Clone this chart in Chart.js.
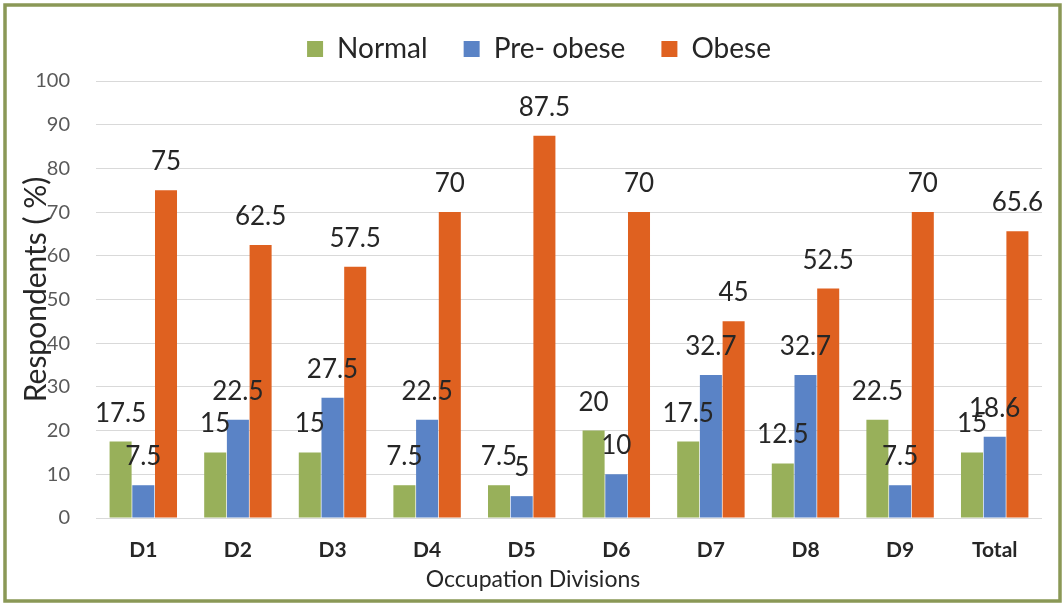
<!DOCTYPE html>
<html>
<head>
<meta charset="utf-8">
<script src="https://cdn.jsdelivr.net/npm/chart.js@4/dist/chart.umd.min.js"></script>
<style>
  html, body { margin: 0; padding: 0; background: #fff; }
  #wrap { width: 1064px; height: 606px; position: relative; }
</style>
</head>
<body>
<div id="wrap"><canvas id="bmiChart"></canvas></div>
<script>
const divisions = ["D1", "D2", "D3", "D4", "D5", "D6", "D7", "D8", "D9", "Total"];
const normal = [17.5, 15, 15, 7.5, 7.5, 20, 17.5, 12.5, 22.5, 15];
const preObese = [7.5, 22.5, 27.5, 22.5, 5, 10, 32.7, 32.7, 7.5, 18.6];
const obese = [75, 62.5, 57.5, 70, 87.5, 70, 45, 52.5, 70, 65.6];
const yTicks = [0, 10, 20, 30, 40, 50, 60, 70, 80, 90, 100];

const FONT = "Lato, 'Open Sans', sans-serif";

// white page + olive frame round the whole chart
const frame = {
  id: "frame",
  beforeInit(chart) {
    const legend = chart.legend;
    // a bit more room under the legend
    const fit = legend.fit;
    legend.fit = function () {
      fit.call(this);
      this.height += 6;
    };
    // legend sits centred over the whole frame, not the padded area
    const draw = legend.draw;
    legend.draw = function () {
      this.ctx.save();
      this.ctx.translate(18, -2);
      draw.call(this);
      this.ctx.restore();
    };
  },
  beforeDraw(chart) {
    const { ctx, width, height } = chart;
    ctx.save();
    ctx.fillStyle = "#fff";
    ctx.fillRect(0, 0, width, height);
    ctx.restore();
  },
  afterDraw(chart) {
    const ctx = chart.ctx;
    ctx.save();
    ctx.strokeStyle = "#8a9856";
    ctx.lineWidth = 3.5;
    ctx.strokeRect(5, 5, 1055, 596);
    ctx.restore();
  }
};

// numbers above each bar + both axis titles
const valueLabels = {
  id: "valueLabels",
  afterDatasetsDraw(chart) {
    const { ctx, chartArea } = chart;
    ctx.save();
    ctx.font = "26px " + FONT;
    ctx.fillStyle = "#262626";
    ctx.textAlign = "center";
    ctx.textBaseline = "alphabetic";
    chart.data.datasets.forEach((ds, i) => {
      chart.getDatasetMeta(i).data.forEach((bar, j) => {
        ctx.fillText(String(ds.data[j]), bar.x, bar.y - 20);
      });
    });

    // x title sits a little left of centre
    ctx.font = "23px " + FONT;
    ctx.textBaseline = "middle";
    const midX = (chartArea.left + chartArea.right) / 2;
    ctx.fillText("Occupation Divisions", midX - 36, 580);

    // y title overlaps the tick numbers
    ctx.font = "30px " + FONT;
    ctx.translate(36, (chartArea.top + chartArea.bottom) / 2 - 10);
    ctx.rotate(-Math.PI / 2);
    ctx.fillText("Respondents ( %)", 0, 0);
    ctx.restore();
  }
};

const ctx = document.getElementById("bmiChart").getContext("2d");
new Chart(ctx, {
  type: "bar",
  data: {
    labels: divisions,
    datasets: [
      { label: "Normal", data: normal, backgroundColor: "#98b05a" },
      { label: "Pre- obese", data: preObese, backgroundColor: "#5a83c6" },
      { label: "Obese", data: obese, backgroundColor: "#df6120" }
    ]
  },
  options: {
    responsive: true,
    maintainAspectRatio: false,
    animation: false,
    layout: { padding: { top: 1, right: 22, bottom: 0, left: 0 } },
    datasets: {
      bar: { categoryPercentage: 0.72, barPercentage: 0.97 }
    },
    scales: {
      x: {
        grid: { display: false },
        border: { display: false },
        ticks: {
          color: "#262626",
          padding: 12,
          font: { family: FONT, size: 21, weight: "bold" }
        },
        afterFit: scale => { scale.height = 88; }
      },
      y: {
        min: 0,
        max: 100,
        afterBuildTicks: scale => { scale.ticks = yTicks.map(v => ({ value: v })); },
        grid: { color: "#d9d9d9", drawTicks: false },
        border: { display: false },
        ticks: {
          color: "#595959",
          padding: 26,
          font: { family: FONT, size: 20 }
        },
        afterFit: scale => { scale.width = 96; }
      }
    },
    plugins: {
      legend: {
        position: "top",
        labels: {
          color: "#262626",
          boxWidth: 16,
          boxHeight: 16,
          padding: 36,
          font: { family: FONT, size: 28 }
        }
      },
      tooltip: { enabled: false }
    }
  },
  plugins: [frame, valueLabels]
});
</script>
</body>
</html>
